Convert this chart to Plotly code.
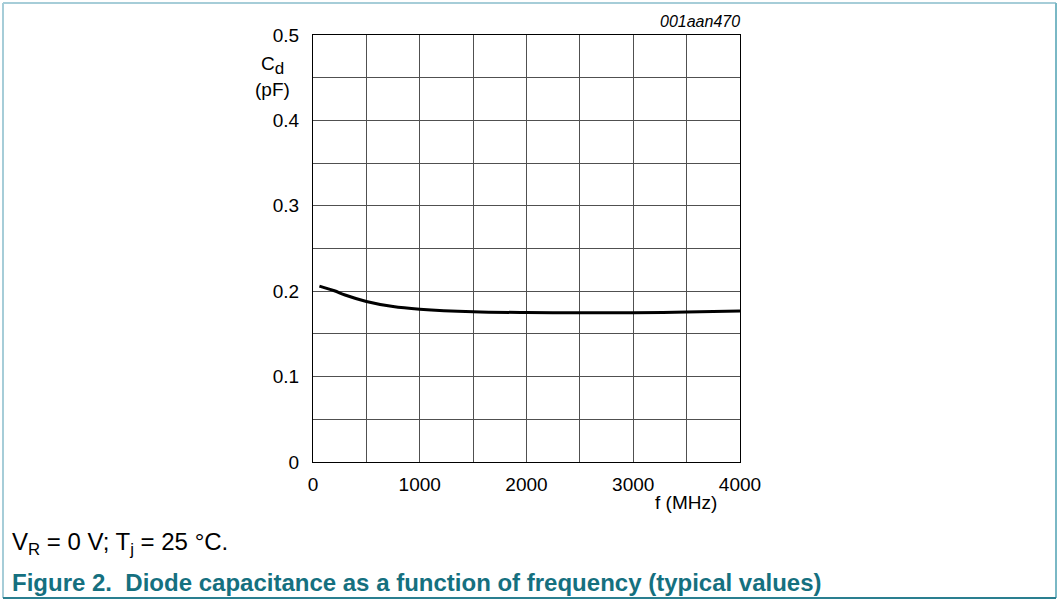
import plotly.graph_objects as go

freq_mhz = [60, 200, 300, 500, 750, 1000, 1500, 2000, 2500, 3000, 3500, 4000]
cd_pf = [0.206, 0.2005, 0.1955, 0.188, 0.182, 0.179, 0.176, 0.175, 0.1748, 0.1748, 0.1755, 0.1768]

x_ticks = [0, 1000, 2000, 3000, 4000]
x_tick_labels = ["0", "1000", "2000", "3000", "4000"]
y_ticks = [0, 0.1, 0.2, 0.3, 0.4, 0.5]
y_tick_labels = ["0", "0.1", "0.2", "0.3", "0.4", "0.5"]

W, H = 1057, 601
L, R, T, B = 313, 740, 35, 462
pw, ph = R - L, B - T

def px(x):
    return (x - L) / pw

def py(y):
    return (B - y) / ph

FONT = "Liberation Sans, Arial, sans-serif"
TEAL = "#15707f"
GRID = "#505050"

fig = go.Figure()
fig.add_trace(go.Scatter(x=freq_mhz, y=cd_pf, mode="lines",
                         line=dict(color="black", width=3, shape="spline", smoothing=1.0),
                         hoverinfo="skip", showlegend=False))

fig.update_layout(
    width=W, height=H,
    margin=dict(l=L, r=W - R, t=T, b=H - B),
    paper_bgcolor="white", plot_bgcolor="white",
    font=dict(family=FONT, size=19, color="black"),
    xaxis=dict(range=[0, 4000], tickvals=x_ticks, ticktext=x_tick_labels,
               showgrid=True, gridcolor=GRID, gridwidth=1,
               minor=dict(dtick=500, tick0=0, showgrid=True, gridcolor=GRID, gridwidth=1),
               showline=True, linecolor="black", linewidth=1, mirror=True,
               zeroline=False, ticks="", ticklen=0, ticklabelstandoff=5,
               tickfont=dict(size=19)),
    yaxis=dict(range=[0, 0.5], tickvals=y_ticks, ticktext=y_tick_labels,
               showgrid=True, gridcolor=GRID, gridwidth=1,
               minor=dict(dtick=0.05, tick0=0, showgrid=True, gridcolor=GRID, gridwidth=1),
               showline=True, linecolor="black", linewidth=1, mirror=True,
               zeroline=False, ticks="", ticklen=0, ticklabelstandoff=9,
               tickfont=dict(size=19)),
)

ann = [
    dict(x=px(272), y=py(66), text="C<sub><span style='font-size:17px'>d</span></sub>", xanchor="center", yanchor="middle", font=dict(size=19)),
    dict(x=px(272), y=py(89), text="(pF)", xanchor="center", yanchor="middle", font=dict(size=19)),
    dict(x=px(686), y=py(503), text="f (MHz)", xanchor="center", yanchor="middle", font=dict(size=19)),
    dict(x=px(742), y=py(22), text="<i>001aan470</i>", xanchor="right", yanchor="middle", font=dict(size=16)),
    dict(x=px(10), y=py(543), text="V<sub>R</sub> = 0 V; T<sub>j</sub> = 25 °C.", xanchor="left", yanchor="middle", font=dict(size=24)),
    dict(x=px(10), y=py(582), text="<b>Figure 2.  Diode capacitance as a function of frequency (typical values)</b>",
         xanchor="left", yanchor="middle", font=dict(size=24, color=TEAL)),
]
for a in ann:
    a.update(xref="paper", yref="paper", showarrow=False)
    fig.add_annotation(**a)

# outer frame
frame = [
    (3, 3, 1056, 3, "#a6cdd8"),
    (3, 3, 3, 598, "#a6cdd8"),
    (1056, 3, 1056, 598, "#7ab8c5"),
    (3, 598, 1056, 598, "#2a7f90"),
]
for x0, y0, x1, y1, c in frame:
    fig.add_shape(type="line", xref="paper", yref="paper",
                  x0=px(x0), y0=py(y0), x1=px(x1), y1=py(y1),
                  line=dict(color=c, width=2))

fig.write_html("out.html", config={"displayModeBar": False},
               post_script="document.body.style.margin='0';document.body.style.overflow='hidden';")
